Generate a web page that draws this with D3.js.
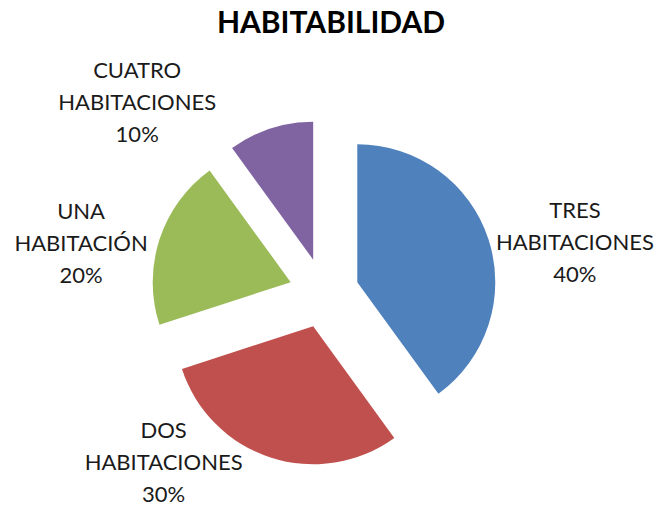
<!DOCTYPE html>
<html>
    <head>
        <meta charset="utf-8">
        <script src="https://d3js.org/d3.v7.min.js"></script>
        <style>
            body { margin: 0; background: #fff; }
            text { font-family: Lato, "Liberation Sans", sans-serif; fill: #1a1a1a; }
        </style>
    </head>

    <body>
        <div id="target"></div>

        <script>
            // data
            var categories = ["TRES HABITACIONES", "DOS HABITACIONES", "UNA HABITACIÓN", "CUATRO HABITACIONES"];
            var values = [40, 30, 20, 10];
            var labelLines = [["TRES", "HABITACIONES"], ["DOS", "HABITACIONES"], ["UNA", "HABITACIÓN"], ["CUATRO", "HABITACIONES"]];
            var colors = ["#4F81BD", "#C0504D", "#9BBB59", "#8064A2"];
            var title = "HABITABILIDAD";

            var width = 658, height = 507;
            var cx = 324, cy = 293, radius = 138, explode = 35;
            // where excel put the labels (angle in degrees clockwise from top, distance from centre)
            var labelPolar = [[78.5, 256], [223.5, 233], [281.6, 248], [315.6, 267]];
            var lineGap = 32;

            var svg = d3.select('#target')
                        .append('svg')
                        .attr('width', width)
                        .attr('height', height);

            svg.append('text')
                .attr('x', 331)
                .attr('y', 33)
                .attr('text-anchor', 'middle')
                .style('font-weight', 'bold')
                .style('font-size', '30px')
                .style('fill', '#000')
                .text(title);

            var pie = d3.pie().sort(null).value(function(d){ return d; });
            var arcs = pie(values);

            var arc = d3.arc().innerRadius(0).outerRadius(radius);

            var group = svg.append('g')
                        .attr('transform', 'translate(' + cx + ',' + cy + ')');

            group.selectAll('path')
                .data(arcs)
                .enter()
                .append('path')
                .attr('d', arc)
                .attr('fill', function(d, i){ return colors[i]; })
                .attr('transform', function(d){
                    var mid = (d.startAngle + d.endAngle) / 2;
                    return 'translate(' + (explode * Math.sin(mid)) + ',' + (-explode * Math.cos(mid)) + ')';
                });

            var totals = d3.sum(values);
            var labels = svg.selectAll('g.label')
                .data(arcs)
                .enter()
                .append('g')
                .attr('class', 'label')
                .attr('transform', function(d, i){
                    var a = labelPolar[i][0] * Math.PI / 180, r = labelPolar[i][1];
                    return 'translate(' + (cx + r * Math.sin(a)) + ',' + (cy - r * Math.cos(a)) + ')';
                });

            labels.append('text')
                .attr('text-anchor', 'middle')
                .style('font-size', '22px')
                .selectAll('tspan')
                .data(function(d, i){
                    return labelLines[i].concat([Math.round(d.value / totals * 100) + '%']);
                })
                .enter()
                .append('tspan')
                .attr('x', 0)
                .attr('y', function(d, j){ return (j - 1) * lineGap + 8; })
                .text(function(d){ return d; });
        </script>
    </body>
</html>
